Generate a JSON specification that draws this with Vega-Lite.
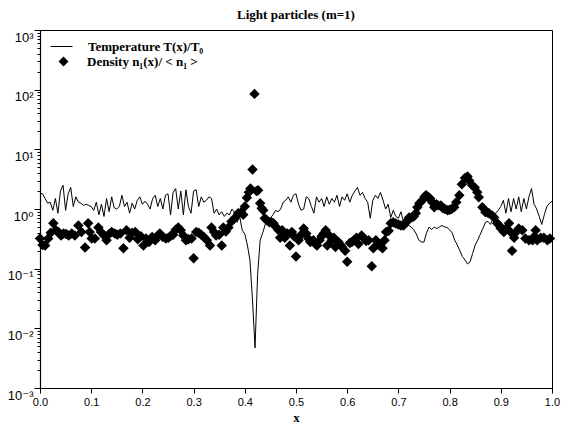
{
  "$schema": "https://vega.github.io/schema/vega-lite/v6.json",
  "width": 512,
  "height": 358,
  "autosize": {"type": "none"},
  "padding": {"left": 40, "top": 30, "right": 11, "bottom": 44},
  "background": "white",
  "config": {
    "view": {"stroke": "black", "strokeWidth": 1},
    "axis": {"grid": false, "domainColor": "black", "tickColor": "black", "labelColor": "black", "titleColor": "black", "labelFont": "Liberation Sans", "domainWidth": 1.2, "tickWidth": 1}
  },
  "title": {"text": "Light particles (m=1)", "font": "Liberation Serif", "fontSize": 13, "fontWeight": "bold", "color": "black", "offset": 8, "anchor": "middle"},
  "datasets": {
    "temp": [
      {"x":0.000,"v":1.84},{"x":0.005,"v":1.8},{"x":0.010,"v":1.5},{"x":0.015,"v":1.25},{"x":0.020,"v":1.3},{"x":0.025,"v":0.95},{"x":0.030,"v":1.5},{"x":0.035,"v":0.85},{"x":0.040,"v":2.0},{"x":0.045,"v":2.5},
      {"x":0.050,"v":0.95},{"x":0.055,"v":1.8},{"x":0.060,"v":2.3},{"x":0.065,"v":1.1},{"x":0.070,"v":1.6},{"x":0.075,"v":1.3},{"x":0.080,"v":1.25},{"x":0.085,"v":1.15},{"x":0.090,"v":1.2},{"x":0.095,"v":1.15},
      {"x":0.100,"v":1.1},{"x":0.105,"v":0.95},{"x":0.110,"v":1.3},{"x":0.115,"v":0.8},{"x":0.120,"v":1.2},{"x":0.125,"v":0.75},{"x":0.130,"v":1.5},{"x":0.135,"v":0.9},{"x":0.140,"v":1.6},{"x":0.145,"v":1.05},
      {"x":0.150,"v":1.0},{"x":0.155,"v":1.1},{"x":0.160,"v":1.7},{"x":0.165,"v":1.1},{"x":0.170,"v":1.3},{"x":0.175,"v":0.85},{"x":0.180,"v":1.25},{"x":0.185,"v":1.0},{"x":0.190,"v":1.4},{"x":0.195,"v":1.6},
      {"x":0.200,"v":1.2},{"x":0.205,"v":1.35},{"x":0.210,"v":1.2},{"x":0.215,"v":1.0},{"x":0.220,"v":1.5},{"x":0.225,"v":1.7},{"x":0.230,"v":1.1},{"x":0.235,"v":1.5},{"x":0.240,"v":1.0},{"x":0.245,"v":1.7},
      {"x":0.250,"v":1.8},{"x":0.255,"v":0.8},{"x":0.260,"v":1.9},{"x":0.265,"v":2.2},{"x":0.270,"v":1.0},{"x":0.275,"v":2.0},{"x":0.280,"v":0.8},{"x":0.285,"v":2.1},{"x":0.290,"v":1.1},{"x":0.295,"v":0.85},
      {"x":0.300,"v":2.0},{"x":0.305,"v":2.1},{"x":0.310,"v":1.1},{"x":0.315,"v":1.6},{"x":0.320,"v":1.3},{"x":0.325,"v":1.4},{"x":0.330,"v":1.6},{"x":0.335,"v":1.5},{"x":0.340,"v":0.85},{"x":0.345,"v":1.0},
      {"x":0.350,"v":0.8},{"x":0.355,"v":0.9},{"x":0.360,"v":0.75},{"x":0.365,"v":0.85},{"x":0.370,"v":0.8},{"x":0.375,"v":1.0},{"x":0.380,"v":0.88},{"x":0.385,"v":0.6},{"x":0.390,"v":0.75},{"x":0.395,"v":0.44},
      {"x":0.400,"v":0.38},{"x":0.405,"v":0.25},{"x":0.410,"v":0.14},{"x":0.415,"v":0.03},{"x":0.420,"v":0.0047},{"x":0.425,"v":0.08},{"x":0.430,"v":0.3},{"x":0.435,"v":0.4},{"x":0.440,"v":0.55},{"x":0.445,"v":0.65},
      {"x":0.450,"v":0.7},{"x":0.455,"v":0.8},{"x":0.460,"v":0.95},{"x":0.465,"v":0.9},{"x":0.470,"v":1.0},{"x":0.475,"v":1.3},{"x":0.480,"v":1.4},{"x":0.485,"v":1.6},{"x":0.490,"v":1.3},{"x":0.495,"v":1.7},
      {"x":0.500,"v":1.8},{"x":0.505,"v":1.2},{"x":0.510,"v":0.95},{"x":0.515,"v":1.0},{"x":0.520,"v":1.6},{"x":0.525,"v":1.5},{"x":0.530,"v":1.1},{"x":0.535,"v":0.85},{"x":0.540,"v":1.6},{"x":0.545,"v":1.3},
      {"x":0.550,"v":1.5},{"x":0.555,"v":1.1},{"x":0.560,"v":1.6},{"x":0.565,"v":1.2},{"x":0.570,"v":1.5},{"x":0.575,"v":1.3},{"x":0.580,"v":1.7},{"x":0.585,"v":1.1},{"x":0.590,"v":1.6},{"x":0.595,"v":1.4},
      {"x":0.600,"v":1.8},{"x":0.605,"v":1.3},{"x":0.610,"v":1.7},{"x":0.615,"v":2.0},{"x":0.620,"v":2.3},{"x":0.625,"v":1.7},{"x":0.630,"v":1.9},{"x":0.635,"v":1.5},{"x":0.640,"v":1.3},{"x":0.645,"v":0.7},
      {"x":0.650,"v":1.4},{"x":0.655,"v":1.7},{"x":0.660,"v":1.5},{"x":0.665,"v":1.9},{"x":0.670,"v":1.4},{"x":0.675,"v":1.0},{"x":0.680,"v":1.2},{"x":0.685,"v":0.72},{"x":0.690,"v":0.95},{"x":0.695,"v":0.75},
      {"x":0.700,"v":0.7},{"x":0.705,"v":0.9},{"x":0.710,"v":0.6},{"x":0.715,"v":0.55},{"x":0.720,"v":0.53},{"x":0.725,"v":0.5},{"x":0.730,"v":0.45},{"x":0.735,"v":0.38},{"x":0.740,"v":0.3},{"x":0.745,"v":0.28},
      {"x":0.750,"v":0.28},{"x":0.755,"v":0.4},{"x":0.760,"v":0.5},{"x":0.765,"v":0.45},{"x":0.770,"v":0.5},{"x":0.775,"v":0.47},{"x":0.780,"v":0.5},{"x":0.785,"v":0.53},{"x":0.790,"v":0.5},{"x":0.795,"v":0.49},
      {"x":0.800,"v":0.45},{"x":0.805,"v":0.4},{"x":0.810,"v":0.3},{"x":0.815,"v":0.25},{"x":0.820,"v":0.2},{"x":0.825,"v":0.16},{"x":0.830,"v":0.14},{"x":0.835,"v":0.12},{"x":0.840,"v":0.13},{"x":0.845,"v":0.18},
      {"x":0.850,"v":0.25},{"x":0.855,"v":0.3},{"x":0.860,"v":0.38},{"x":0.865,"v":0.47},{"x":0.870,"v":0.6},{"x":0.875,"v":0.62},{"x":0.880,"v":0.55},{"x":0.885,"v":0.7},{"x":0.890,"v":0.85},{"x":0.895,"v":0.95},
      {"x":0.900,"v":1.1},{"x":0.905,"v":1.4},{"x":0.910,"v":0.85},{"x":0.915,"v":1.5},{"x":0.920,"v":0.9},{"x":0.925,"v":1.5},{"x":0.930,"v":1.0},{"x":0.935,"v":1.6},{"x":0.940,"v":0.9},{"x":0.945,"v":1.5},
      {"x":0.950,"v":1.0},{"x":0.955,"v":1.6},{"x":0.960,"v":2.2},{"x":0.965,"v":1.2},{"x":0.970,"v":1.0},{"x":0.975,"v":0.75},{"x":0.980,"v":0.55},{"x":0.985,"v":0.8},{"x":0.990,"v":1.1},{"x":0.995,"v":1.25},
      {"x":1.000,"v":1.35}
    ],
    "dens": [
      {"x":0.000,"v":0.32},{"x":0.005,"v":0.25},{"x":0.010,"v":0.245},{"x":0.016,"v":0.32},{"x":0.021,"v":0.4},{"x":0.026,"v":0.575},{"x":0.031,"v":0.44},{"x":0.036,"v":0.41},{"x":0.041,"v":0.36},{"x":0.046,"v":0.39},
      {"x":0.051,"v":0.38},{"x":0.056,"v":0.36},{"x":0.062,"v":0.39},{"x":0.068,"v":0.36},{"x":0.075,"v":0.53},{"x":0.081,"v":0.41},{"x":0.088,"v":0.227},{"x":0.094,"v":0.575},{"x":0.097,"v":0.41},{"x":0.101,"v":0.32},
      {"x":0.107,"v":0.32},{"x":0.114,"v":0.49},{"x":0.119,"v":0.41},{"x":0.125,"v":0.36},{"x":0.130,"v":0.30},{"x":0.135,"v":0.38},{"x":0.140,"v":0.41},{"x":0.146,"v":0.39},{"x":0.151,"v":0.37},{"x":0.157,"v":0.39},
      {"x":0.163,"v":0.22},{"x":0.169,"v":0.44},{"x":0.175,"v":0.33},{"x":0.180,"v":0.4},{"x":0.186,"v":0.41},{"x":0.191,"v":0.31},{"x":0.197,"v":0.35},{"x":0.202,"v":0.245},{"x":0.207,"v":0.32},{"x":0.213,"v":0.28},
      {"x":0.219,"v":0.34},{"x":0.225,"v":0.3},{"x":0.230,"v":0.36},{"x":0.234,"v":0.39},{"x":0.240,"v":0.34},{"x":0.246,"v":0.32},{"x":0.251,"v":0.33},{"x":0.256,"v":0.36},{"x":0.260,"v":0.37},{"x":0.265,"v":0.45},
      {"x":0.270,"v":0.49},{"x":0.275,"v":0.44},{"x":0.280,"v":0.36},{"x":0.285,"v":0.3},{"x":0.290,"v":0.31},{"x":0.296,"v":0.32},{"x":0.300,"v":0.15},{"x":0.305,"v":0.41},{"x":0.310,"v":0.40},{"x":0.315,"v":0.37},
      {"x":0.320,"v":0.34},{"x":0.326,"v":0.3},{"x":0.332,"v":0.245},{"x":0.335,"v":0.49},{"x":0.340,"v":0.41},{"x":0.344,"v":0.36},{"x":0.350,"v":0.37},{"x":0.355,"v":0.245},{"x":0.358,"v":0.49},{"x":0.363,"v":0.42},
      {"x":0.368,"v":0.49},{"x":0.374,"v":0.62},{"x":0.380,"v":0.7},{"x":0.387,"v":0.85},{"x":0.393,"v":0.88},{"x":0.397,"v":0.8},{"x":0.400,"v":1.1},{"x":0.404,"v":1.55},{"x":0.408,"v":1.9},{"x":0.411,"v":2.2},
      {"x":0.415,"v":4.6},{"x":0.419,"v":85},{"x":0.423,"v":2.0},{"x":0.426,"v":2.06},{"x":0.430,"v":1.25},{"x":0.433,"v":1.03},{"x":0.436,"v":0.95},{"x":0.439,"v":0.7},{"x":0.443,"v":0.65},{"x":0.448,"v":0.6},
      {"x":0.452,"v":0.6},{"x":0.456,"v":0.575},{"x":0.461,"v":0.5},{"x":0.465,"v":0.45},{"x":0.469,"v":0.33},{"x":0.473,"v":0.44},{"x":0.478,"v":0.33},{"x":0.483,"v":0.39},{"x":0.488,"v":0.245},{"x":0.492,"v":0.41},
      {"x":0.496,"v":0.35},{"x":0.500,"v":0.16},{"x":0.505,"v":0.3},{"x":0.510,"v":0.37},{"x":0.515,"v":0.47},{"x":0.520,"v":0.39},{"x":0.524,"v":0.32},{"x":0.528,"v":0.28},{"x":0.534,"v":0.3},{"x":0.538,"v":0.26},
      {"x":0.541,"v":0.245},{"x":0.546,"v":0.3},{"x":0.550,"v":0.35},{"x":0.554,"v":0.39},{"x":0.558,"v":0.44},{"x":0.561,"v":0.245},{"x":0.565,"v":0.36},{"x":0.570,"v":0.3},{"x":0.574,"v":0.33},{"x":0.577,"v":0.23},
      {"x":0.583,"v":0.28},{"x":0.587,"v":0.25},{"x":0.590,"v":0.23},{"x":0.596,"v":0.2},{"x":0.600,"v":0.13},{"x":0.605,"v":0.27},{"x":0.609,"v":0.28},{"x":0.613,"v":0.3},{"x":0.618,"v":0.33},{"x":0.622,"v":0.26},
      {"x":0.628,"v":0.36},{"x":0.632,"v":0.33},{"x":0.637,"v":0.29},{"x":0.642,"v":0.3},{"x":0.648,"v":0.11},{"x":0.651,"v":0.22},{"x":0.656,"v":0.3},{"x":0.660,"v":0.26},{"x":0.664,"v":0.24},{"x":0.669,"v":0.22},
      {"x":0.673,"v":0.3},{"x":0.676,"v":0.41},{"x":0.681,"v":0.43},{"x":0.685,"v":0.575},{"x":0.690,"v":0.6},{"x":0.695,"v":0.57},{"x":0.700,"v":0.55},{"x":0.705,"v":0.53},{"x":0.710,"v":0.53},{"x":0.714,"v":0.58},
      {"x":0.718,"v":0.65},{"x":0.721,"v":0.72},{"x":0.726,"v":0.72},{"x":0.730,"v":0.75},{"x":0.734,"v":0.85},{"x":0.737,"v":1.07},{"x":0.741,"v":1.25},{"x":0.747,"v":1.4},{"x":0.751,"v":1.6},{"x":0.754,"v":1.7},
      {"x":0.758,"v":1.6},{"x":0.762,"v":1.5},{"x":0.766,"v":1.3},{"x":0.770,"v":1.07},{"x":0.774,"v":1.2},{"x":0.778,"v":1.15},{"x":0.783,"v":1.15},{"x":0.787,"v":1.03},{"x":0.791,"v":1.0},{"x":0.796,"v":0.95},
      {"x":0.800,"v":0.97},{"x":0.804,"v":1.0},{"x":0.809,"v":1.07},{"x":0.813,"v":1.3},{"x":0.819,"v":1.7},{"x":0.824,"v":2.6},{"x":0.830,"v":3.3},{"x":0.835,"v":3.5},{"x":0.838,"v":3.0},{"x":0.844,"v":2.5},
      {"x":0.849,"v":2.3},{"x":0.854,"v":1.9},{"x":0.857,"v":1.57},{"x":0.864,"v":1.07},{"x":0.870,"v":0.88},{"x":0.874,"v":0.87},{"x":0.877,"v":0.85},{"x":0.883,"v":0.78},{"x":0.887,"v":0.72},{"x":0.893,"v":0.575},
      {"x":0.897,"v":0.53},{"x":0.900,"v":0.47},{"x":0.906,"v":0.41},{"x":0.910,"v":0.47},{"x":0.916,"v":0.575},{"x":0.919,"v":0.41},{"x":0.922,"v":0.2},{"x":0.926,"v":0.33},{"x":0.930,"v":0.41},{"x":0.935,"v":0.47},
      {"x":0.942,"v":0.44},{"x":0.948,"v":0.32},{"x":0.955,"v":0.3},{"x":0.962,"v":0.3},{"x":0.966,"v":0.35},{"x":0.968,"v":0.44},{"x":0.971,"v":0.3},{"x":0.978,"v":0.33},{"x":0.984,"v":0.33},{"x":0.991,"v":0.3},
      {"x":0.996,"v":0.32}
    ]
  },
  "resolve": {"legend": {"color": "independent", "shape": "independent"}},
  "layer": [
    {
      "data": {"name": "temp"},
      "mark": {"type": "line", "strokeWidth": 1},
      "encoding": {
        "x": {
          "field": "x", "type": "quantitative",
          "scale": {"domain": [0, 1], "nice": false, "zero": false},
          "axis": {
            "title": "x", "titleFont": "Liberation Serif", "titleFontWeight": "bold", "titleFontSize": 13, "titlePadding": 4,
            "values": [0,0.05,0.1,0.15,0.2,0.25,0.3,0.35,0.4,0.45,0.5,0.55,0.6,0.65,0.7,0.75,0.8,0.85,0.9,0.95,1],
            "labelExpr": "round(datum.value*20) % 2 == 0 ? format(datum.value, '.1f') : ''",
            "labelFontSize": 11, "labelFlush": false, "labelOverlap": false, "tickSize": 5, "labelPadding": 3
          }
        },
        "y": {
          "field": "v", "type": "quantitative",
          "scale": {"type": "log", "domain": [0.001, 1000], "nice": false},
          "axis": {
            "title": null,
            "values": [0.001,0.002,0.003,0.004,0.005,0.006,0.007,0.008,0.009,0.01,0.02,0.03,0.04,0.05,0.06,0.07,0.08,0.09,0.1,0.2,0.3,0.4,0.5,0.6,0.7,0.8,0.9,1,2,3,4,5,6,7,8,9,10,20,30,40,50,60,70,80,90,100,200,300,400,500,600,700,800,900,1000],
            "labelExpr": "abs(log(datum.value)/LN10 - round(log(datum.value)/LN10)) < 0.001 ? ('10' + (round(log(datum.value)/LN10)==3 ? '³' : round(log(datum.value)/LN10)==2 ? '²' : round(log(datum.value)/LN10)==1 ? '¹' : round(log(datum.value)/LN10)==0 ? '⁰' : round(log(datum.value)/LN10)==-1 ? '⁻¹' : round(log(datum.value)/LN10)==-2 ? '⁻²' : '⁻³')) : ''",
            "labelFont": "Liberation Sans, DejaVu Sans",
            "labelFontSize": 13, "labelOverlap": false, "labelBaseline": "middle", "labelOffset": 7, "labelPadding": 1,
            "tickSize": {"condition": {"test": "abs(log(datum.value)/LN10 - round(log(datum.value)/LN10)) < 0.001", "value": 6}, "value": 3}
          }
        },
        "color": {
          "datum": "Temperature T(x)/T₀",
          "scale": {"range": ["black"]},
          "legend": {
            "title": null, "orient": "none", "legendX": 10, "legendY": 5, "padding": 0,
            "symbolType": "stroke", "symbolSize": 484, "symbolStrokeWidth": 1, "symbolStrokeColor": "black",
            "labelFont": "Liberation Serif", "labelFontWeight": "bold", "labelFontSize": 13, "labelColor": "black", "labelOffset": 15
          }
        }
      }
    },
    {
      "data": {"name": "dens"},
      "mark": {"type": "point", "filled": true, "color": "black", "opacity": 1, "size": 110},
      "encoding": {
        "x": {"field": "x", "type": "quantitative"},
        "y": {"field": "v", "type": "quantitative"},
        "shape": {
          "datum": "Density n₁(x)/ < n₁ >",
          "scale": {"range": ["diamond"]},
          "legend": {
            "title": null, "orient": "none", "legendX": 17, "legendY": 25, "padding": 0,
            "symbolSize": 100, "symbolFillColor": "black",
            "labelFont": "Liberation Serif", "labelFontWeight": "bold", "labelFontSize": 13, "labelColor": "black", "labelOffset": 17
          }
        }
      }
    }
  ]
}
